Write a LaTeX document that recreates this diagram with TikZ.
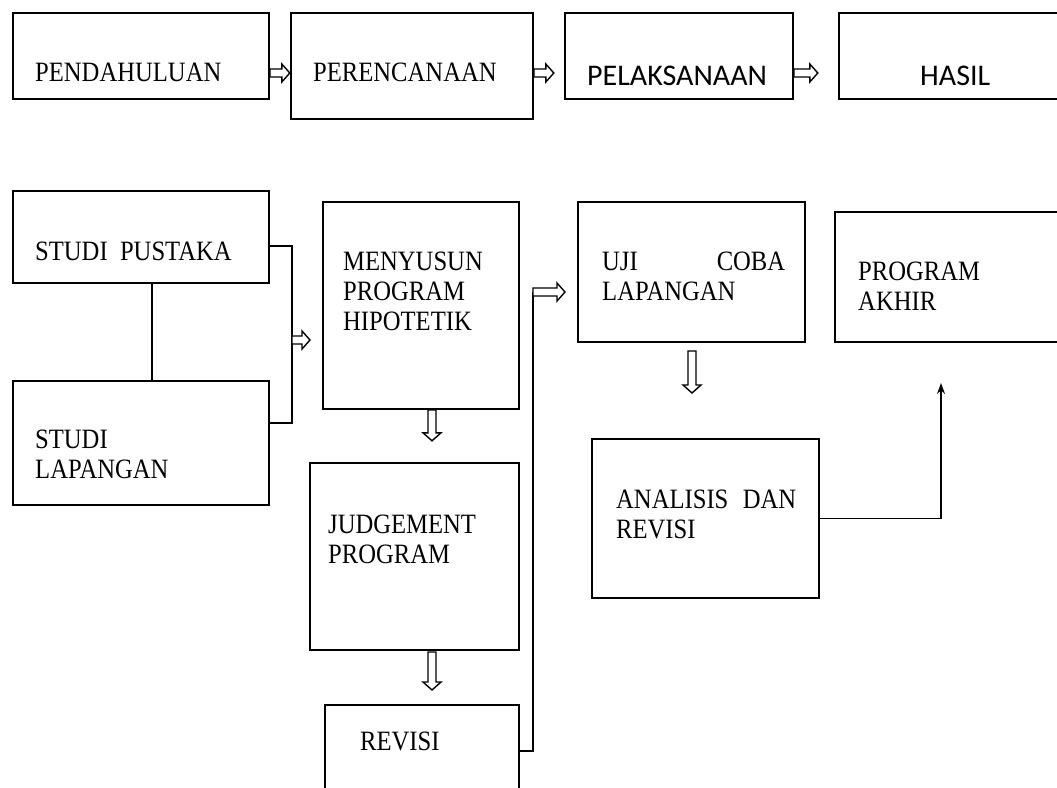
\documentclass[tikz,border=0pt]{standalone}
\usepackage{fontspec}
\setmainfont{Liberation Serif}[FakeStretch=0.88]
\newfontfamily\calibri{Carlito}
\usetikzlibrary{arrows.meta}
\tikzstyle{block} = [rectangle, draw=black, line width=1.6pt, inner sep=0pt]
\tikzstyle{txt} = [anchor=base west, inner sep=0pt, align=left, font=\fontsize{28}{30}\selectfont]
\tikzstyle{sanstxt} = [anchor=base west, inner sep=0pt, font=\calibri\fontsize{30}{32}\selectfont]
\tikzstyle{line} = [line width=1.6pt]
\tikzstyle{arrow} = [line width=1.6pt,-{Stealth[length=11pt,width=8pt]}]
\tikzset{pics/hollow/.style={code={
  \draw[line width=1.4pt, fill=white] (0,-4) -- (#1-8,-4) -- (#1-8,-9) -- (#1,0) -- (#1-8,9) -- (#1-8,4) -- (0,4) -- cycle;
}}}

\begin{document}
\begin{tikzpicture}[x=1pt, y=-1pt]
    \useasboundingbox (0,0) rectangle (1057,787);

    % top row
    \node (pend) [block, minimum width=256pt, minimum height=86pt] at (141,56) {};
    \node (peren) [block, minimum width=242pt, minimum height=106pt] at (412,66) {};
    \node (pelak) [block, minimum width=228pt, minimum height=86pt] at (679,56) {};
    \node (hasil) [block, minimum width=231pt, minimum height=86pt] at (954.5,56) {};
    \node (pendtxt) [txt] at (35,81) {PENDAHULUAN};
    \node (perentxt) [txt] at (313,81) {PERENCANAAN};
    \node (pelaktxt) [sanstxt] at (587,85) {PELAKSANAAN};
    \node (hasiltxt) [sanstxt] at (920,85) {HASIL};
    \pic at (pend.east |- 0,73) {hollow=20};
    \pic at (peren.east |- 0,73) {hollow=20};
    \pic at (pelak.east |- 0,73) {hollow=24};

    % bottom part
    \node (pustaka) [block, minimum width=256pt, minimum height=92pt] at (141,237) {};
    \node (lapangan) [block, minimum width=256pt, minimum height=124pt] at (141,443) {};
    \node (menyusun) [block, minimum width=196pt, minimum height=207pt] at (421,305.5) {};
    \node (judgement) [block, minimum width=209pt, minimum height=187pt] at (414.5,556.5) {};
    \node (revisi) [block, minimum width=194pt, minimum height=95pt] at (422,752.5) {};
    \node (uji) [block, minimum width=227pt, minimum height=140pt] at (691.5,272) {};
    \node (analisis) [block, minimum width=227pt, minimum height=159pt] at (705.5,518.5) {};
    \node (akhir) [block, minimum width=235pt, minimum height=130pt] at (952.5,277) {};

    \node (pustakatxt) [txt] at (35,260) {STUDI\ \ PUSTAKA};
    \node (lapangantxt) [txt] at (35,478) {STUDI\\LAPANGAN};
    \node (menyusuntxt) [txt] at (343,330) {MENYUSUN\\PROGRAM\\HIPOTETIK};
    \node (judgementtxt) [txt] at (328,563) {JUDGEMENT\\PROGRAM};
    \node (revisitxt) [txt] at (360,750) {REVISI};
    \node (ujitxt) [txt] at (602,300) {\makebox[183pt]{UJI\hfill COBA}\\LAPANGAN};
    \node (analisistxt) [txt] at (616,538) {\makebox[180pt]{ANALISIS\hfill DAN}\\REVISI};
    \node (akhirtxt) [txt] at (858,310) {PROGRAM\\AKHIR};

    \coordinate (brk) at (292,340);
    \coordinate (revout) at (533,751);
    \coordinate (ujiin) at (533,292);
    \coordinate (akhirin) at (941,383);

    \draw [line] ([xshift=11pt]pustaka.south) -- ([xshift=11pt]lapangan.north);
    \draw [line] ([yshift=-9pt]pustaka.east) -| (brk) |- ([yshift=20pt]lapangan.east);
    \pic at (brk) {hollow=18};

    \pic [rotate=-90] at (menyusun.south -| 432,0) {hollow=31};
    \pic [rotate=-90] at (432,652) {hollow=38};
    \pic [rotate=-90] at (692,351) {hollow=42};

    \draw [line] (revisi.east |- revout) -| (ujiin);
    \pic at (ujiin) {hollow=32};

    \draw [arrow] (analisis.east) -| (akhirin);
\end{tikzpicture}
\end{document}
